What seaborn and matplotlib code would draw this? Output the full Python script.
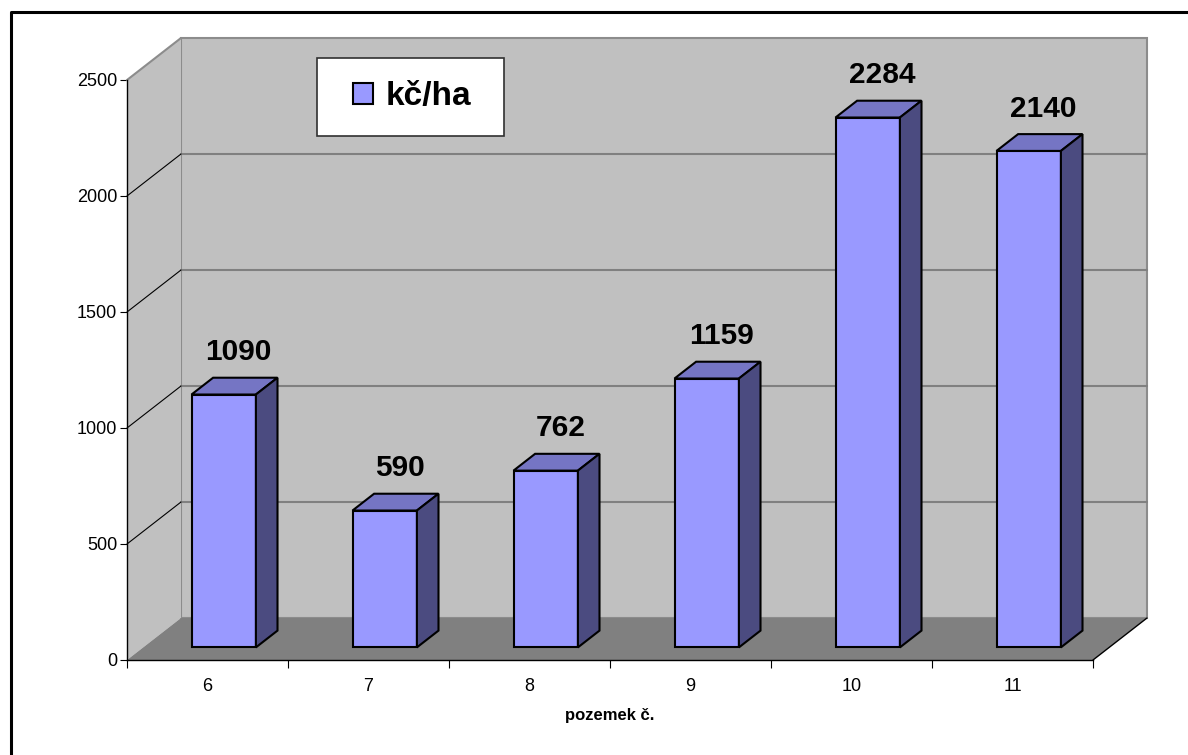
import matplotlib
matplotlib.use("Agg")
import matplotlib.pyplot as plt
import seaborn as sns
from matplotlib.patches import Polygon, Rectangle, Patch
from matplotlib.transforms import ScaledTranslation, IdentityTransform
from matplotlib.lines import Line2D

# ---- data ----
plots = ["6", "7", "8", "9", "10", "11"]
values = [1090, 590, 762, 1159, 2284, 2140]
y_ticks = [0, 500, 1000, 1500, 2000, 2500]
series_name = "kč/ha"
x_title = "pozemek č."

# ---- style ----
sns.set_style("white")
plt.rcParams['font.family'] = ['Liberation Sans', 'DejaVu Sans']
plt.rcParams['text.color'] = 'black'
plt.rcParams['xtick.color'] = 'black'
plt.rcParams['ytick.color'] = 'black'
plt.rcParams['axes.labelcolor'] = 'black'

FRONT = "#9999FF"
TOP = "#7575C4"
SIDE = "#4B4B80"
WALL = "#C0C0C0"
FLOOR = "#808080"
GRID = "#808080"

# depth vector of the 3D box (inches at dpi 100 -> 54 px right, 42 px up)
DX, DY = 0.54, 0.42
BAR_D0, BAR_D1 = 0.3, 0.7

fig = plt.figure(figsize=(11.88, 7.55), dpi=100)
W, H = 1188, 755
ax = fig.add_axes([127 / W, 95 / H, 966 / W, 580 / H])
ax.patch.set_alpha(0)

sns.barplot(x=plots, y=values, color=FRONT, edgecolor="black", linewidth=1.5,
            width=0.4, saturation=1, ax=ax, zorder=3)

n = len(plots)
xmin, xmax = -0.5, n - 0.5
ymax = y_ticks[-1]
ax.set_xlim(xmin, xmax)
ax.set_ylim(0, ymax)


def depth(d):
    return ax.transData + ScaledTranslation(DX * d, DY * d, fig.dpi_scale_trans)


def P(x, y, d):
    return depth(d).transform((x, y))


def poly(pts, **kw):
    p = Polygon(pts, closed=True, transform=IdentityTransform(), clip_on=False, **kw)
    ax.add_patch(p)
    return p


def seg(a, b, **kw):
    ax.add_line(Line2D(*zip(a, b), transform=IdentityTransform(), clip_on=False, **kw))


# back wall
ax.add_patch(Rectangle((xmin, 0), xmax - xmin, ymax, transform=depth(1),
                       facecolor=WALL, edgecolor="#8C8C8C", linewidth=1.5,
                       clip_on=False, zorder=0.5))
# side wall
poly([P(xmin, 0, 0), P(xmin, ymax, 0), P(xmin, ymax, 1), P(xmin, 0, 1)],
     facecolor=WALL, edgecolor="none", zorder=0.6)
seg(P(xmin, ymax, 0), P(xmin, ymax, 1), color="#8C8C8C", lw=1.5, zorder=0.7)
# floor
poly([P(xmin, 0, 0), P(xmax, 0, 0), P(xmax, 0, 1), P(xmin, 0, 1)],
     facecolor=FLOOR, edgecolor="none", zorder=0.8)
seg(P(xmax, 0, 0), P(xmax, 0, 1), color="black", lw=1, zorder=0.9)

# grid lines: back wall + side wall
for v in y_ticks[1:-1]:
    ax.plot([xmin, xmax], [v, v], transform=depth(1), color=GRID, lw=1.5,
            zorder=0.7, clip_on=False)
    seg(P(xmin, v, 0), P(xmin, v, 1), color="black", lw=0.8, zorder=0.7)

# 3D bars: shift front faces, add top and side faces
for bar in ax.patches[:n]:
    bar.set_transform(depth(BAR_D0))
    bar.set_clip_on(False)
    x0 = bar.get_x()
    x1 = x0 + bar.get_width()
    h = bar.get_height()
    poly([P(x0, h, BAR_D0), P(x1, h, BAR_D0), P(x1, h, BAR_D1), P(x0, h, BAR_D1)],
         facecolor=TOP, edgecolor="black", linewidth=1.5, zorder=3)
    poly([P(x1, 0, BAR_D0), P(x1, h, BAR_D0), P(x1, h, BAR_D1), P(x1, 0, BAR_D1)],
         facecolor=SIDE, edgecolor="black", linewidth=1.5, zorder=3)

# value labels
for i, v in enumerate(values):
    ax.annotate(str(v), xy=(i, v), xytext=(22.3, 39.6), textcoords="offset points",
                ha="center", va="center", fontsize=21.5, fontweight="bold",
                color="black", zorder=5, annotation_clip=False)

# axes / ticks
for s in ["top", "right"]:
    ax.spines[s].set_visible(False)
for s in ["left", "bottom"]:
    ax.spines[s].set_color("black")
    ax.spines[s].set_linewidth(1)
    ax.spines[s].set_zorder(4)

ax.set_yticks(y_ticks)
ax.set_yticklabels([str(t) for t in y_ticks])
ax.tick_params(axis="y", direction="out", length=5, width=0.8, color="black",
               labelsize=13, pad=2, left=True, labelcolor="black")
ax.set_xticks(range(n))
ax.set_xticklabels(plots)
ax.set_xticks([xmin + k for k in range(n + 1)], minor=True)
ax.tick_params(axis="x", which="major", length=0, labelsize=13, pad=13, labelcolor="black")
ax.tick_params(axis="x", which="minor", direction="out", length=6, width=0.8,
               color="black", bottom=True)
ax.set_xlabel(x_title, fontsize=12, fontweight="bold", labelpad=9, color="black")
ax.set_ylabel("")

# legend
fig.patches.append(Rectangle((317 / W, 1 - 136 / H), 187 / W, 78 / H,
                             transform=fig.transFigure, facecolor="white",
                             edgecolor="#303030", linewidth=1.2, zorder=10))
handle = Patch(facecolor=FRONT, edgecolor="black", linewidth=1.5)
leg = fig.legend([handle], [series_name], loc="center", bbox_to_anchor=(412 / W, 1 - 97 / H),
                 frameon=False, prop={"size": 24, "weight": "bold"},
                 handlelength=0.6, handleheight=0.6, handletextpad=0.4)
leg.set_zorder(11)

# outer frame (top and left edges)
fig.add_artist(Line2D([11 / W, 11 / W, 1], [0, 1 - 12 / H, 1 - 12 / H],
                      transform=fig.transFigure, color="black", lw=2.2))

fig.savefig("out.png", dpi=100, facecolor="white")
